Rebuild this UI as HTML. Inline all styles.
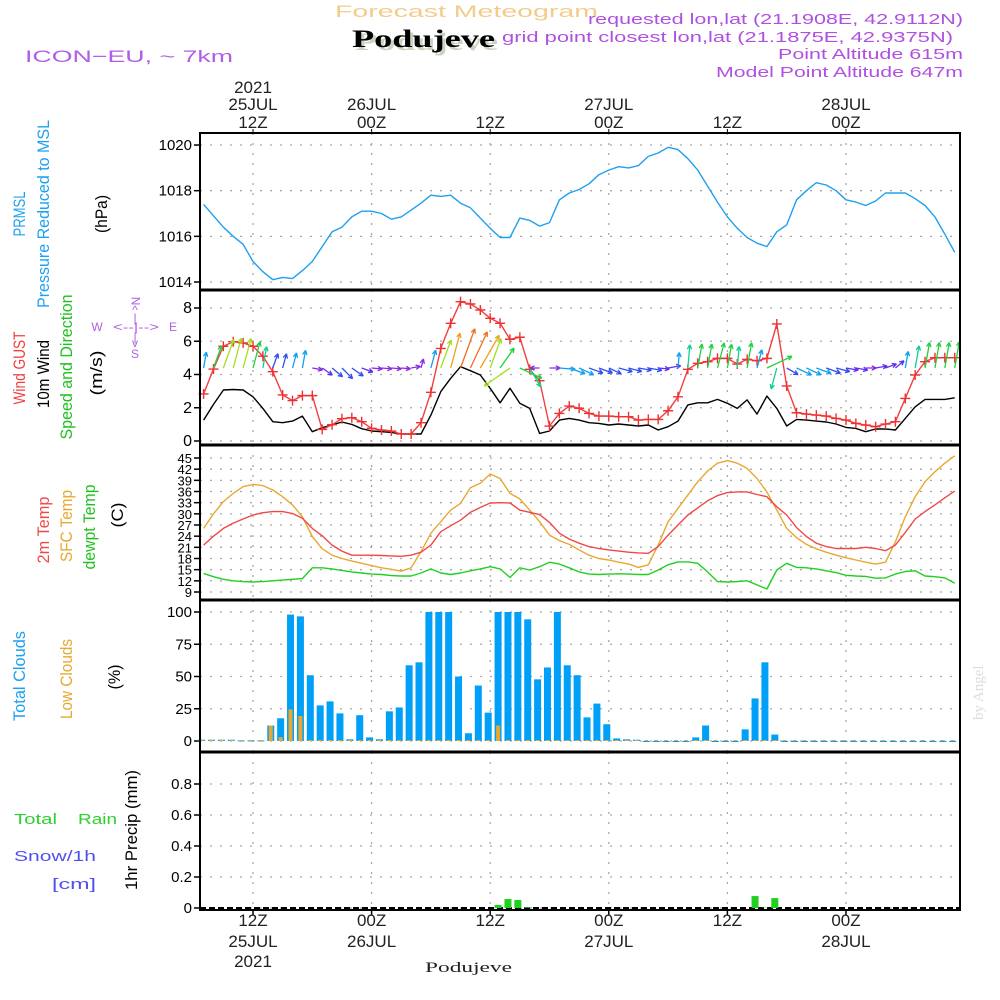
<!DOCTYPE html>
<html><head><meta charset="utf-8"><title>Forecast Meteogram Podujeve</title>
<style>
html,body{margin:0;padding:0;background:#fff;}
svg{display:block;font-family:"Liberation Sans",sans-serif;}
</style></head>
<body>
<svg id="chart" width="1000" height="1000" viewBox="0 0 1000 1000" xmlns="http://www.w3.org/2000/svg">
  <rect width="1000" height="1000" fill="#fff"/>
  <text x="335" y="17" font-size="17" fill="#f3cc8c" textLength="263" lengthAdjust="spacingAndGlyphs">Forecast Meteogram</text>
  <text x="355" y="50" font-size="25" font-weight="bold" font-family="Liberation Serif, serif" fill="#c8d4c0" textLength="143" lengthAdjust="spacingAndGlyphs">Podujeve</text>
  <text x="352" y="47" font-size="25" font-weight="bold" font-family="Liberation Serif, serif" fill="#000" textLength="143" lengthAdjust="spacingAndGlyphs">Podujeve</text>
  <text x="25" y="62" font-size="17" fill="#b05ee8" textLength="208" lengthAdjust="spacingAndGlyphs">ICON−EU, ~ 7km</text>
  <text x="588" y="24" font-size="15" fill="#b050e0" textLength="375" lengthAdjust="spacingAndGlyphs">requested lon,lat (21.1908E, 42.9112N)</text>
  <text x="502" y="42" font-size="15" fill="#b050e0" textLength="451" lengthAdjust="spacingAndGlyphs">grid point closest lon,lat (21.1875E, 42.9375N)</text>
  <text x="778" y="59" font-size="15" fill="#b050e0" textLength="185" lengthAdjust="spacingAndGlyphs">Point Altitude 615m</text>
  <text x="716" y="77" font-size="15" fill="#b050e0" textLength="247" lengthAdjust="spacingAndGlyphs">Model Point Altitude 647m</text>
  <text transform="translate(983,720) rotate(-90)" font-size="15" font-family="Liberation Serif, serif" fill="#dcdcdc">by Angel</text>

  <g font-size="17">
    <text transform="translate(25,214) rotate(-90)" text-anchor="middle" fill="#1ea0f0" textLength="45" lengthAdjust="spacingAndGlyphs">PRMSL</text>
    <text transform="translate(49,214) rotate(-90)" text-anchor="middle" fill="#1ea0f0" textLength="188" lengthAdjust="spacingAndGlyphs">Pressure Reduced to MSL</text>
    <text transform="translate(107,214) rotate(-90)" text-anchor="middle" fill="#000" textLength="38" lengthAdjust="spacingAndGlyphs">(hPa)</text>
  </g>
  <g font-size="17">
    <text transform="translate(25,368) rotate(-90)" text-anchor="middle" fill="#f04040" textLength="73" lengthAdjust="spacingAndGlyphs">Wind GUST</text>
    <text transform="translate(49,374) rotate(-90)" text-anchor="middle" fill="#000" textLength="68" lengthAdjust="spacingAndGlyphs">10m Wind</text>
    <text transform="translate(72,367) rotate(-90)" text-anchor="middle" fill="#20c020" textLength="145" lengthAdjust="spacingAndGlyphs">Speed and Direction</text>
    <text transform="translate(102,373) rotate(-90)" text-anchor="middle" fill="#000" textLength="45" lengthAdjust="spacingAndGlyphs">(m/s)</text>
  </g>
  <g font-size="12" fill="#b060e0" text-anchor="middle">
    <text transform="translate(140,301) rotate(-90)">N</text>
    <text x="97" y="331">W</text>
    <text x="173" y="331">E</text>
    <text x="136" y="331" textLength="46" lengthAdjust="spacingAndGlyphs">&lt;--|--&gt;</text>
    <text x="135" y="314">^</text>
    <text x="135" y="322">|</text>
    <text x="135" y="341">|</text>
    <text x="135" y="347">v</text>
    <text x="135" y="358">S</text>
  </g>
  <g font-size="17">
    <text transform="translate(49,530) rotate(-90)" text-anchor="middle" fill="#f04848" textLength="67" lengthAdjust="spacingAndGlyphs">2m Temp</text>
    <text transform="translate(72,526) rotate(-90)" text-anchor="middle" fill="#e8a830" textLength="72" lengthAdjust="spacingAndGlyphs">SFC Temp</text>
    <text transform="translate(95,527) rotate(-90)" text-anchor="middle" fill="#20c020" textLength="85" lengthAdjust="spacingAndGlyphs">dewpt Temp</text>
    <text transform="translate(123,515) rotate(-90)" text-anchor="middle" fill="#000" textLength="25" lengthAdjust="spacingAndGlyphs">(C)</text>
  </g>
  <g font-size="17">
    <text transform="translate(25,676) rotate(-90)" text-anchor="middle" fill="#1ea0f0" textLength="90" lengthAdjust="spacingAndGlyphs">Total Clouds</text>
    <text transform="translate(72,679) rotate(-90)" text-anchor="middle" fill="#e8a830" textLength="80" lengthAdjust="spacingAndGlyphs">Low Clouds</text>
    <text transform="translate(120,677) rotate(-90)" text-anchor="middle" fill="#000" textLength="25" lengthAdjust="spacingAndGlyphs">(%)</text>
  </g>
  <g font-size="15">
    <text x="14" y="824" fill="#30d030" textLength="43" lengthAdjust="spacingAndGlyphs">Total</text>
    <text x="78" y="824" fill="#30d030" textLength="39" lengthAdjust="spacingAndGlyphs">Rain</text>
    <text x="14" y="861" fill="#5050f0" textLength="82" lengthAdjust="spacingAndGlyphs">Snow/1h</text>
    <text x="52" y="889" fill="#5050f0" textLength="44" lengthAdjust="spacingAndGlyphs">[cm]</text>
    <text transform="translate(137,830) rotate(-90)" text-anchor="middle" font-size="17" fill="#000" textLength="120" lengthAdjust="spacingAndGlyphs">1hr Precip (mm)</text>
  </g>
  <text x="425" y="972" font-size="15" font-family="Liberation Serif, serif" fill="#222" textLength="87" lengthAdjust="spacingAndGlyphs">Podujeve</text>
  <g id="plot"></g>
</svg>
<script>
const startHour = -5;
const pressure = [1017.4,1016.9,1016.4,1016.0,1015.65,1014.9,1014.45,1014.1,1014.2,1014.15,1014.5,1014.9,1015.55,1016.2,1016.4,1016.85,1017.1,1017.1,1017.0,1016.75,1016.85,1017.15,1017.45,1017.8,1017.75,1017.8,1017.45,1017.25,1016.8,1016.35,1015.95,1015.95,1016.8,1016.7,1016.45,1016.6,1017.6,1017.9,1018.05,1018.3,1018.7,1018.9,1019.05,1019.0,1019.1,1019.5,1019.65,1019.9,1019.8,1019.4,1018.9,1018.2,1017.5,1016.85,1016.35,1015.95,1015.7,1015.55,1016.2,1016.5,1017.6,1018.0,1018.35,1018.25,1018.0,1017.6,1017.5,1017.35,1017.55,1017.9,1017.9,1017.9,1017.65,1017.35,1016.85,1016.1,1015.3];
const windGust = [2.83,4.33,5.7,5.97,5.9,5.7,5.1,4.17,2.77,2.43,2.73,2.73,0.7,0.98,1.34,1.4,1.16,0.76,0.66,0.6,0.42,0.42,1.1,2.93,5.57,7.08,8.38,8.24,7.88,7.38,7.08,6.12,6.24,4.31,3.63,0.9,1.66,2.1,1.97,1.66,1.5,1.5,1.46,1.46,1.26,1.3,1.3,1.82,2.66,4.31,4.67,4.77,4.97,4.97,4.63,4.91,4.83,4.97,7.04,3.31,1.7,1.62,1.56,1.5,1.36,1.26,1.06,0.96,0.86,1.02,1.16,2.56,3.97,4.77,5.01,5.01,5.01];
const windSpeed = [1.26,2.2,3.07,3.1,3.07,2.66,1.96,1.16,1.1,1.2,1.5,0.56,0.8,0.96,1.14,1.0,0.74,0.6,0.56,0.52,0.42,0.42,0.42,1.56,2.97,3.77,4.47,4.23,3.97,3.17,2.3,3.17,2.27,1.96,0.46,0.6,1.26,1.36,1.26,1.1,1.06,0.96,1.02,0.96,0.9,0.96,0.66,0.86,1.2,2.17,2.3,2.3,2.5,2.27,1.96,2.47,1.62,2.7,1.96,0.9,1.3,1.26,1.2,1.14,1.02,0.82,0.76,0.56,0.72,0.72,0.66,1.36,2.06,2.5,2.5,2.5,2.6];
const windDir = [10,20,20,15,15,15,10,20,15,15,10,100,125,130,135,125,110,95,95,95,95,80,15,15,20,15,20,25,30,20,35,235,115,150,270,90,95,110,115,110,110,115,105,105,100,100,95,80,5,5,10,10,15,10,5,10,15,65,195,120,115,115,110,110,105,100,100,90,80,70,50,10,10,10,10,10,10];
const temp2m = [21.6,24.0,26.1,27.5,28.6,29.7,30.3,30.6,30.6,30.1,28.8,26.1,24.1,21.6,20.0,18.9,18.9,18.9,18.8,18.7,18.6,18.9,19.7,21.6,25.2,26.8,28.3,30.4,31.7,32.9,33.0,32.9,31.0,30.4,29.8,27.7,24.8,23.2,22.1,21.2,20.7,20.3,20.0,19.7,19.5,19.4,21.2,24.3,27.0,29.7,31.6,33.5,34.9,35.7,35.9,35.9,35.2,34.6,31.9,29.7,26.3,23.9,22.1,21.2,20.7,20.7,20.7,21.0,20.7,20.1,21.6,25.0,28.6,30.6,32.4,34.3,36.1];
const tempSfc = [26.1,30.0,33.3,35.5,37.3,37.9,37.6,36.4,34.6,32.4,29.2,23.9,20.6,18.9,18.0,17.3,16.7,16.1,15.5,15.1,14.6,15.5,19.8,24.8,27.9,31.0,32.8,37.0,38.2,40.7,39.5,35.5,34.0,31.0,27.9,24.3,22.8,21.8,20.3,18.9,18.0,17.6,17.0,16.5,15.6,16.3,21.6,27.9,31.5,35.1,38.6,41.5,43.6,44.3,43.6,42.2,39.5,35.9,31.0,26.1,23.6,21.8,20.6,19.7,18.9,18.2,17.6,17.0,16.5,17.0,22.5,29.2,34.6,38.6,41.3,43.6,45.6];
const dewpoint = [14.0,13.1,12.4,12.0,11.8,11.7,11.8,12.0,12.2,12.4,12.6,15.5,15.5,15.2,14.8,14.4,14.1,13.8,13.7,13.4,13.3,13.3,14.1,15.2,14.1,13.7,14.1,14.7,15.2,15.8,15.2,12.9,15.5,14.9,15.8,17.0,16.5,15.5,14.4,13.8,13.7,13.8,13.9,13.8,13.7,13.7,14.9,16.3,17.1,17.1,16.7,14.4,11.8,11.7,11.8,12.0,10.9,9.8,14.9,16.7,15.6,15.5,15.2,14.7,14.2,13.5,13.3,13.2,12.7,12.8,13.8,14.5,14.7,13.3,13.1,12.8,11.4];
const totalClouds = [1,1,1,1,0.5,0.5,0.5,12,17.6,98,96.6,51,27.6,30.7,21.4,1.3,20,2.8,1.3,23,26,58.7,61,100,100,100,50,6,43,22,100,100,100,94.3,47.8,57,100,58.7,51,18.3,29,13,2,1.3,1,0,0,0,0,0,2.8,12,0,0,0,9,33,61,5,0,0,0,0,0,0,0,0,0,0,0,0,0,0,0,0,0,0];
const lowClouds = [0.5,1,1,0.5,0.5,0.5,0.5,12,3,24.5,19.4,0,0,0,0,0,0,0,0,0,0,0,0,0,0,0,0,0,0,0,12,0,0,0,0,0,0,0,0,0,0,0,0,0,0,0,0,0,0,0,0,0,0,0,0,0,0,0,0,0,0,0,0,0,0,0,0,0,0,0,0,0,0,0,0,0,0];
const precipHours = [25,26,27,28,51,52,53];
const precipValues = [0.02,0.058,0.052,0.005,0.077,0.002,0.064];
const pressureTicks = [1014,1016,1018,1020];
const windTicks = [0,2,4,6,8];
const tempTicks = [9,12,15,18,21,24,27,30,33,36,39,42,45];
const cloudTicks = [0,25,50,75,100];
const precipTicks = [0,0.2,0.4,0.6,0.8];
const precipTickLabels = ["0","0.2","0.4","0.6","0.8"];
const timeTickHours = [0,12,24,36,48,60];
const timeTickHourLabels = ["12Z","00Z","12Z","00Z","12Z","00Z"];
const timeTickDayLabels = ["25JUL","26JUL","","27JUL","","28JUL"];

const xs = h => 253 + h * 9.883;
const yP = p => 282 - (p - 1014) * 22.83;
const yW = v => 441 - v * 16.625;
const yT = t => 592 - (t - 9) * 3.722;
const yC = c => 741 - c * 1.29;
const yR = r => 908 - r * 155;

const NS = "http://www.w3.org/2000/svg";
const plot = document.getElementById("plot");
function mk(tag, attrs, parent) {
  const e = document.createElementNS(NS, tag);
  for (const k in attrs) e.setAttribute(k, attrs[k]);
  (parent || plot).appendChild(e);
  return e;
}
const L = 200, R = 960, TOP = 133, BOT = 910;
const panels = [
  {name:"pressure", top:TOP, bot:290, ticks:pressureTicks, f:yP, labels:pressureTicks.map(String), fs:15},
  {name:"wind", top:290, bot:445, ticks:windTicks, f:yW, labels:windTicks.map(String), fs:16},
  {name:"temperature", top:445, bot:600, ticks:tempTicks, f:yT, labels:tempTicks.map(String), fs:13},
  {name:"clouds", top:600, bot:752, ticks:cloudTicks, f:yC, labels:cloudTicks.map(String), fs:15},
  {name:"precip", top:752, bot:BOT, ticks:precipTicks, f:yR, labels:precipTickLabels, fs:15}
];
panels.forEach(p => {
  const g = mk("g", {});
  
  
  p.ticks.forEach((t, i) => {
    const y = p.f(t);
    const gl = mk("line", {x1:L, x2:R, y1:y, y2:y, stroke:"#a8a8a8", "stroke-width":1.3, "stroke-dasharray":"2,8"}, g);
    
    
    mk("line", {x1:L-6, x2:L, y1:y, y2:y, stroke:"#000", "stroke-width":1.5}, g);
    const tx = mk("text", {x:L-8, y:y+5, "text-anchor":"end", "font-size":p.fs, fill:"#000"}, g);
    tx.textContent = p.labels[i];
    
    
  });
  timeTickHours.forEach(h => {
    const vl = mk("line", {x1:xs(h), x2:xs(h), y1:p.top, y2:p.bot, stroke:"#a8a8a8", "stroke-width":1.3, "stroke-dasharray":"2,8"}, g);
    
    
  });
});
timeTickHours.forEach((h, i) => {
  const x = xs(h);
  mk("line", {x1:x, x2:x, y1:TOP-4, y2:TOP, stroke:"#000", "stroke-width":1});
  mk("line", {x1:x, x2:x, y1:BOT, y2:BOT+5, stroke:"#000", "stroke-width":1.5});
  const t1 = mk("text", {x:x, y:128, "text-anchor":"middle", "font-size":17, fill:"#222"});
  t1.textContent = timeTickHourLabels[i];
  
  
  const b1 = mk("text", {x:x, y:926, "text-anchor":"middle", "font-size":17, fill:"#222"});
  b1.textContent = timeTickHourLabels[i];
  
  
  if (timeTickDayLabels[i]) {
    const t2 = mk("text", {x:x, y:110, "text-anchor":"middle", "font-size":17, fill:"#222"});
    t2.textContent = timeTickDayLabels[i];
    
    
    const b2 = mk("text", {x:x, y:947, "text-anchor":"middle", "font-size":17, fill:"#222"});
    b2.textContent = timeTickDayLabels[i];
    
    
  }
});
const y1 = mk("text", {x:xs(0), y:93, "text-anchor":"middle", "font-size":17, fill:"#222"});
y1.textContent = "2021";


const y2 = mk("text", {x:xs(0), y:967, "text-anchor":"middle", "font-size":17, fill:"#222"});
y2.textContent = "2021";



function polyline(vals, f, color, name, w) {
  const pts = vals.map((v, i) => xs(startHour + i).toFixed(1) + "," + f(v).toFixed(1)).join(" ");
  const pl = mk("polyline", {points:pts, fill:"none", stroke:color, "stroke-width":w || 1.4, "stroke-linejoin":"round"});
  
  
}
polyline(pressure, yP, "#1ea0f0", "pressure-line");
polyline(windSpeed, yW, "#000", "wind-speed-line");
polyline(windGust, yW, "#f04040", "wind-gust-line");
windGust.forEach((v, i) => {
  const x = xs(startHour + i), y = yW(v);
  const m = mk("path", {d:`M${x-5},${y}H${x+5}M${x},${y-5}V${y+5}`, stroke:"#f03030", "stroke-width":1.4});
  
  
});
function arrowColor(s) {
  if (s < 0.65) return "#8a2be2";
  if (s < 0.9) return "#6030f0";
  if (s < 1.2) return "#3050f0";
  if (s < 1.7) return "#10a0f0";
  if (s < 2.2) return "#10d090";
  if (s < 2.8) return "#20d040";
  if (s < 3.3) return "#a0e020";
  if (s < 3.6) return "#e8d020";
  if (s < 4.2) return "#f0a020";
  return "#f07020";
}
windDir.forEach((d, i) => {
  const s = windSpeed[i];
  const len = 6 + s * 8;
  const a = d * Math.PI / 180;
  const x0 = xs(startHour + i), y0 = 368;
  const x1 = x0 + len * Math.sin(a), y1 = y0 - len * Math.cos(a);
  const h1 = a + Math.PI - 0.45, h2 = a + Math.PI + 0.45;
  const c = arrowColor(s);
  const ar = mk("path", {d:`M${x0},${y0}L${x1},${y1}M${x1},${y1}L${x1 + 5*Math.sin(h1)},${y1 - 5*Math.cos(h1)}M${x1},${y1}L${x1 + 5*Math.sin(h2)},${y1 - 5*Math.cos(h2)}`, stroke:c, "stroke-width":1.3, fill:"none"});
  
  
});
polyline(tempSfc, yT, "#e8a830", "sfc-temp-line");
polyline(temp2m, yT, "#f04848", "2m-temp-line");
polyline(dewpoint, yT, "#20d020", "dewpoint-line");
totalClouds.forEach((c, i) => {
  const x = xs(startHour + i) - 2;
  const y = yC(c);
  const b = mk("rect", {x:x-3.5, y:y, width:7, height:Math.max(741 - y, 1), fill:"#00a0f8"});
  
  
});
lowClouds.forEach((c, i) => {
  const x = xs(startHour + i) - 2;
  const y = yC(c);
  const b = mk("rect", {x:x-2, y:Math.min(y, 740), width:4, height:Math.max(741 - y, 1), fill:"#e8a830"});
  
  
});
mk("line", {x1:L, x2:R, y1:908, y2:908, stroke:"#000", "stroke-width":2, "stroke-dasharray":"6,3"});
precipValues.forEach((r, i) => {
  const x = xs(precipHours[i]) - 2;
  const y = yR(r);
  const b = mk("rect", {x:x-3.5, y:y, width:7, height:908 - y, fill:"#20d020"});
  
  
});
const fr = mk("rect", {x:L, y:TOP, width:R-L, height:BOT-TOP, fill:"none", stroke:"#000", "stroke-width":2});


[290, 445, 600, 752].forEach(y => {
  const s = mk("line", {x1:L, x2:R, y1:y, y2:y, stroke:"#000", "stroke-width":3});
  
  
});
</script>
</body></html>
